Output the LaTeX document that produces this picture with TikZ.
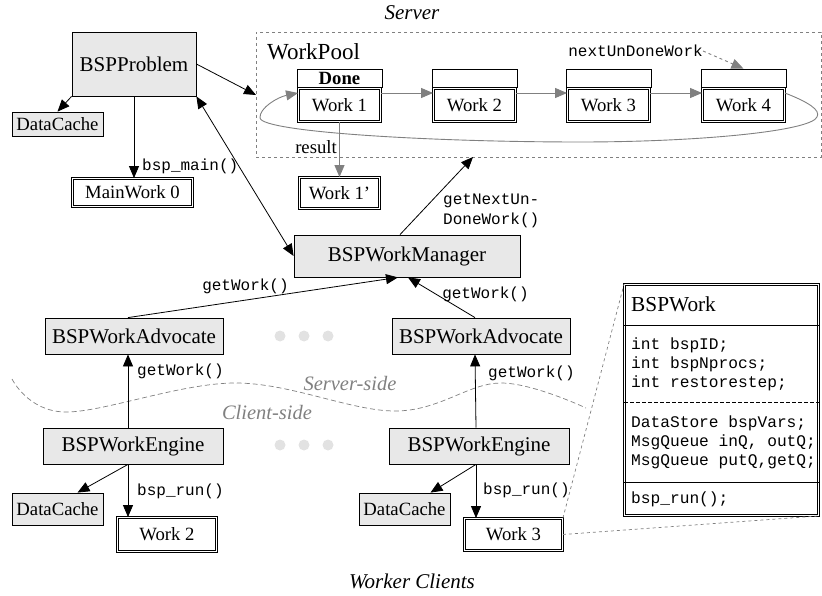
\documentclass[tikz,border=0pt]{standalone}
\usepackage{fontspec}
\setmainfont{Liberation Serif}
\setmonofont{Liberation Mono}
\usetikzlibrary{arrows.meta,calc}
\definecolor{boxfill}{RGB}{232,232,232}
\definecolor{lgray}{RGB}{128,128,128}
\definecolor{dotgray}{RGB}{226,226,226}
\begin{document}
\begin{tikzpicture}[x=1pt,y=-1pt,
  txt/.style={font=\fontsize{21}{24}\selectfont},
  stxt/.style={font=\fontsize{18.7}{21}\selectfont},
  graybox/.style={draw, line width=0.8pt, fill=boxfill, inner sep=0pt, txt},
  dbox/.style={draw, double, double distance=1.5pt, line width=0.85pt, fill=white, inner sep=0pt, stxt},
  hdr/.style={draw, line width=0.8pt, fill=white, inner sep=0pt, minimum width=85pt, minimum height=18pt, stxt},
  code/.style={font=\fontsize{16}{20}\selectfont\ttfamily, inner sep=0pt},
  arr/.style={-{Triangle[length=12pt,width=10pt]}, line width=0.8pt},
  darr/.style={{Triangle[length=12pt,width=10pt]}-{Triangle[length=12pt,width=10pt]}, line width=0.8pt},
  garr/.style={-{Triangle[length=12pt,width=10pt]}, line width=0.9pt, draw=lgray},
  title/.style={font=\fontsize{21}{24}\selectfont\itshape, inner sep=0pt},
  side/.style={font=\fontsize{20.5}{24}\selectfont\itshape, text=lgray, inner sep=0pt},
  dot/.style={circle, fill=dotgray, minimum size=11pt, inner sep=0pt},
  link/.style={dashed, draw=lgray, line width=0.7pt}
]
\useasboundingbox (0,0) rectangle (822,596);

% titles
\node[title] (tserver) at (412,13) {Server};
\node[title] (tworker) at (412,581) {Worker Clients};

% server part
\node[graybox, minimum width=124pt, minimum height=64pt] (bp) at (134,64) {BSPProblem};
\node[graybox, stxt, minimum width=91pt, minimum height=24pt] (dc1) at (57.5,124) {DataCache};
\node[dbox, minimum width=120pt, minimum height=28pt] (mw) at (132.5,192.5) {MainWork 0};

\node[draw=lgray, dashed, line width=0.9pt, minimum width=565pt, minimum height=125pt, inner sep=0pt] (pool) at (538.5,94.5) {};
\node[font=\fontsize{23}{26}\selectfont, anchor=west, inner sep=0pt] (lpool) at (267,52) {WorkPool};

\node[hdr] (h1) at (339.5,78) {\textbf{Done}};
\node[hdr] (h2) at (474.5,78) {};
\node[hdr] (h3) at (608.5,78) {};
\node[hdr] (h4) at (743.5,78) {};
\node[dbox, minimum width=82pt, minimum height=33pt] (w1) at (339.5,105) {Work 1};
\node[dbox, minimum width=82pt, minimum height=33pt] (w2) at (474.5,105) {Work 2};
\node[dbox, minimum width=82pt, minimum height=33pt] (w3) at (608.5,105) {Work 3};
\node[dbox, minimum width=82pt, minimum height=33pt] (w4) at (743.5,105) {Work 4};
\node[dbox, minimum width=80pt, minimum height=31pt] (w1p) at (339.5,193) {Work 1’};

\draw[garr] ([yshift=12pt]w1.east) -- ([yshift=12pt]w2.west);
\draw[garr] ([yshift=12pt]w2.east) -- ([yshift=12pt]w3.west);
\draw[garr] ([yshift=12pt]w3.east) -- ([yshift=12pt]w4.west);
\draw[garr] ([yshift=12pt]w4.east) .. controls (808,102) and (821,110) .. (817,117)
   .. controls (811,131) and (700,142) .. (580,142)
   .. controls (430,142) and (262,132) .. (260,118)
   .. controls (259,108) and (278,97) .. ([yshift=12pt]w1.west);

\node[code, anchor=east] (lnext) at (703,51) {nextUnDoneWork};
\draw[garr, dashed] (lnext.east) -- (h4.north);

\draw[garr] (w1.south) -- (w1p.north);
\node[stxt, anchor=east, inner sep=0pt] (lres) at (337,147) {result};

\coordinate (poolin) at (256,95);
\coordinate (poolout) at (473,157);

\node[graybox, minimum width=226pt, minimum height=42pt] (mgr) at (407,256) {BSPWorkManager};

\draw[arr] (bp.south west) -- (dc1.north);
\draw[arr] (bp.south) -- (bp.south |- mw.north);
\node[code, anchor=west] (lmain) at (142,166) {bsp\_main()};
\draw[arr] (bp.east) -- (poolin);
\draw[darr] (bp.south east) -- (mgr.west);
\draw[arr] ([xshift=-7pt]mgr.north) -- (poolout);
\node[code, anchor=west, align=left] (lgnu) at (443,211) {getNextUn-\\DoneWork()};

% advocates
\node[graybox, minimum width=178pt, minimum height=36pt] (advl) at (134,336) {BSPWorkAdvocate};
\node[graybox, minimum width=178pt, minimum height=36pt] (advr) at (481,336) {BSPWorkAdvocate};
\draw[arr] ([xshift=-6pt]advl.north) -- ([xshift=-9pt]mgr.south);
\draw[arr] ([xshift=-6pt]advr.north) -- ([xshift=1pt]mgr.south);
\node[code] (lgw1) at (245.5,286) {getWork()};
\node[code] (lgw2) at (485.5,294) {getWork()};

\node[dot] (d1) at (280,336) {};
\node[dot] (d2) at (304,336) {};
\node[dot] (d3) at (328,336) {};

% separator
\draw[link, dash pattern=on 5pt off 3pt] plot[smooth, tension=0.6] coordinates {(12,379) (65,412) (235,383) (395,411) (500,383) (586,408)};
\node[side] (lss) at (350,383) {Server-side};
\node[side] (lcs) at (267,412) {Client-side};

% engines
\node[graybox, minimum width=180pt, minimum height=36pt] (engl) at (133,446) {BSPWorkEngine};
\node[graybox, minimum width=180pt, minimum height=36pt] (engr) at (479,446) {BSPWorkEngine};
\draw[arr] ([xshift=-5pt]engl.north) -- ([xshift=-6pt]advl.south);
\draw[arr] ([xshift=-3pt]engr.north) -- ([xshift=-6pt]advr.south);
\node[code, anchor=west] (lgw3) at (137,371) {getWork()};
\node[code, anchor=west] (lgw4) at (488,373) {getWork()};

\node[dot] (d4) at (280,445) {};
\node[dot] (d5) at (304,445) {};
\node[dot] (d6) at (328,445) {};

\node[graybox, stxt, minimum width=91pt, minimum height=32pt] (dc2) at (57.5,509) {DataCache};
\node[graybox, stxt, minimum width=91pt, minimum height=32pt] (dc3) at (404.5,509) {DataCache};
\node[dbox, minimum width=99pt, minimum height=34pt] (wk2) at (167,534.5) {Work 2};
\node[dbox, minimum width=98pt, minimum height=32pt] (wk3) at (513.5,534.5) {Work 3};

\draw[arr] ([xshift=-5pt]engl.south) -- ([xshift=20pt]dc2.north);
\draw[arr] ([xshift=-3pt]engr.south) -- ([xshift=26pt]dc3.north);
\draw[arr] ([xshift=-5pt]engl.south) -- ([xshift=-5pt]engl.south |- wk2.north);
\draw[arr] ([xshift=-3pt]engr.south) -- ([xshift=-3pt]engr.south |- wk3.north);
\node[code, anchor=west] (lrun1) at (137,491) {bsp\_run()};
\node[code, anchor=west] (lrun2) at (483,490) {bsp\_run()};

% BSPWork class box
\node[draw, double, double distance=1.5pt, line width=0.85pt, minimum width=194pt, minimum height=231pt, inner sep=0pt] (bw) at (721.5,400) {};
\coordinate (s1) at (0,325);
\coordinate (s2) at (0,402);
\coordinate (s3) at (0,482);
\draw[line width=0.8pt] (bw.west |- s1) -- (bw.east |- s1);
\draw[line width=0.8pt, dashed, dash pattern=on 4pt off 2pt] (bw.west |- s2) -- (bw.east |- s2);
\draw[line width=0.8pt] (bw.west |- s3) -- (bw.east |- s3);
\node[font=\fontsize{21.3}{24}\selectfont, anchor=west, inner sep=0pt] (bwt) at (631,304) {BSPWork};
\node[code, anchor=west, align=left, font=\fontsize{16.2}{19}\selectfont\ttfamily] (bwa) at (631,364) {int bspID;\\int bspNprocs;\\int restorestep;};
\node[code, anchor=west, align=left, font=\fontsize{16.2}{19}\selectfont\ttfamily] (bwb) at (631,442) {DataStore bspVars;\\MsgQueue inQ, outQ;\\MsgQueue putQ,getQ;};
\node[code, anchor=west, font=\fontsize{16.2}{19}\selectfont\ttfamily] (bwc) at (631,499) {bsp\_run();};

\draw[link] (wk3.north east) -- (bw.north west);
\draw[link] (wk3.east) -- (bw.south east);
\end{tikzpicture}
\end{document}
